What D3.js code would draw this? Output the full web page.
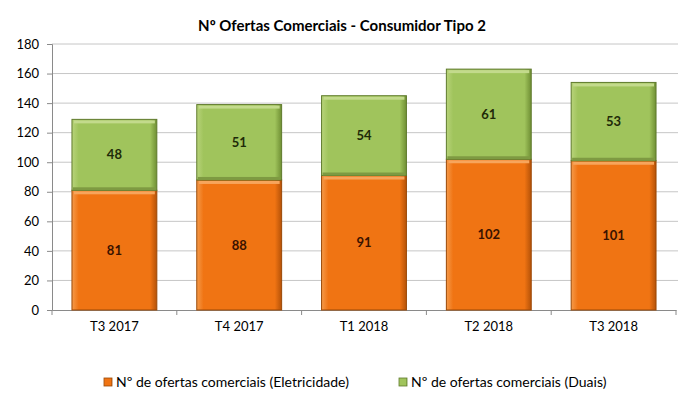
<!DOCTYPE html>
<html><head><meta charset="utf-8">
<script src="https://cdn.jsdelivr.net/npm/d3@7"></script>
<style>body{margin:0;background:#fff;} svg{display:block;font-family:Lato,"Open Sans",sans-serif;}</style>
</head><body>
<svg id="c" width="684" height="411"></svg>
<script>
const categories = ["T3 2017","T4 2017","T1 2018","T2 2018","T3 2018"];
const eletricidade = [81,88,91,102,101];
const duais = [48,51,54,61,53];
const seriesNames = ["Nº de ofertas comerciais (Eletricidade)","Nº de ofertas comerciais (Duais)"];
const yTicks = [0,20,40,60,80,100,120,140,160,180];
const title = "Nº Ofertas Comerciais - Consumidor Tipo 2";

const svg = d3.select("#c");
const m = {l:52, r:676, t:44, b:310};
const x = d3.scaleBand().domain(categories).range([m.l,m.r]).paddingInner(0.32).paddingOuter(0.16);
const y = d3.scaleLinear().domain([0,180]).range([m.b,m.t]);

const defs = svg.append("defs");
function grad(id, c1, c2, c3){
  const g = defs.append("linearGradient").attr("id",id).attr("x1","0").attr("x2","1").attr("y1","0").attr("y2","0");
  g.append("stop").attr("offset","0").attr("stop-color",c1);
  g.append("stop").attr("offset","0.08").attr("stop-color",c2);
  g.append("stop").attr("offset","0.92").attr("stop-color",c2);
  g.append("stop").attr("offset","1").attr("stop-color",c3);
}
grad("gO","#f59a4a","#f07413","#b55208");
grad("gG","#b8d37a","#a0c45c","#6f8f34");

svg.append("text").attr("x",342).attr("y",31).attr("text-anchor","middle")
  .attr("font-size",15).attr("font-weight","bold").attr("fill","#000").text(title);

// gridlines
svg.append("g").selectAll("line").data(yTicks.slice(1)).join("line")
  .attr("x1",m.l).attr("x2",m.r+2).attr("y1",d=>y(d)).attr("y2",d=>y(d))
  .attr("stroke","#c6c6c6").attr("stroke-width",1);

// y axis
const ya = svg.append("g").attr("transform",`translate(${m.l},0)`).call(d3.axisLeft(y).tickValues(yTicks).tickSize(5).tickPadding(8));
ya.select(".domain").attr("stroke","#8a8a8a");
ya.selectAll(".tick line").attr("stroke","#8a8a8a");
ya.selectAll("text").attr("font-size",13).attr("fill","#000").attr("font-family","Lato,sans-serif");

// x axis
const xa = svg.append("g").attr("transform",`translate(0,${m.b})`).call(d3.axisBottom(x).tickSize(0).tickPadding(12));
xa.select(".domain").attr("stroke","#8a8a8a");
xa.selectAll("text").attr("font-size",13).attr("fill","#000").attr("font-family","Lato,sans-serif");
const bounds = d3.range(categories.length+1).map(i=>m.l + i*(m.r-m.l)/categories.length);
xa.selectAll(".bt").data(bounds).join("line").attr("class","bt")
  .attr("x1",d=>d).attr("x2",d=>d).attr("y1",0).attr("y2",5).attr("stroke","#8a8a8a");

const data = categories.map((c,i)=>({c, e:eletricidade[i], d:duais[i]}));
const bw = x.bandwidth();
const g = svg.append("g");
// orange
g.selectAll(".o").data(data).join("rect").attr("class","o")
  .attr("x",d=>x(d.c)).attr("width",bw).attr("y",d=>y(d.e)).attr("height",d=>y(0)-y(d.e))
  .attr("fill","url(#gO)").attr("stroke","#9a4806").attr("stroke-width",1);
g.selectAll(".ot").data(data).join("rect").attr("class","ot")
  .attr("x",d=>x(d.c)+2).attr("width",bw-4).attr("y",d=>y(d.e)+1).attr("height",3)
  .attr("fill","#f7a55c");
// green
g.selectAll(".gr").data(data).join("rect").attr("class","gr")
  .attr("x",d=>x(d.c)).attr("width",bw).attr("y",d=>y(d.e+d.d)).attr("height",d=>y(d.e)-y(d.e+d.d))
  .attr("fill","url(#gG)").attr("stroke","#5f7a2c").attr("stroke-width",1);
g.selectAll(".gt").data(data).join("rect").attr("class","gt")
  .attr("x",d=>x(d.c)+2).attr("width",bw-4).attr("y",d=>y(d.e+d.d)+1).attr("height",3)
  .attr("fill","#c3da8c");
g.selectAll(".gb").data(data).join("rect").attr("class","gb")
  .attr("x",d=>x(d.c)+1).attr("width",bw-2).attr("y",d=>y(d.e)-3).attr("height",3)
  .attr("fill","#7e9a42");

// labels
g.selectAll(".le").data(data).join("text").attr("class","le")
  .attr("x",d=>x(d.c)+bw/2).attr("y",d=>y(d.e/2)).attr("dy","0.35em")
  .attr("text-anchor","middle").attr("font-size",13).attr("font-weight","bold").attr("fill","#3a1200")
  .text(d=>d.e);
g.selectAll(".ld").data(data).join("text").attr("class","ld")
  .attr("x",d=>x(d.c)+bw/2).attr("y",d=>y(d.e+d.d/2)).attr("dy","0.35em")
  .attr("text-anchor","middle").attr("font-size",13).attr("font-weight","bold").attr("fill","#1e2a08")
  .text(d=>d.d);

// legend
const leg = [{n:seriesNames[0], f:"url(#gO)", s:"#9a4806", x:104},{n:seriesNames[1], f:"url(#gG)", s:"#5f7a2c", x:399}];
const lg = svg.append("g").selectAll("g").data(leg).join("g").attr("transform",d=>`translate(${d.x},382)`);
lg.append("rect").attr("x",0).attr("y",-4).attr("width",8).attr("height",8).attr("fill",d=>d.f).attr("stroke",d=>d.s).attr("stroke-width",0.8);
lg.append("text").attr("x",12).attr("y",0).attr("dy","0.35em").attr("font-size",14).attr("fill","#000").text(d=>d.n);
</script>
</body></html>
